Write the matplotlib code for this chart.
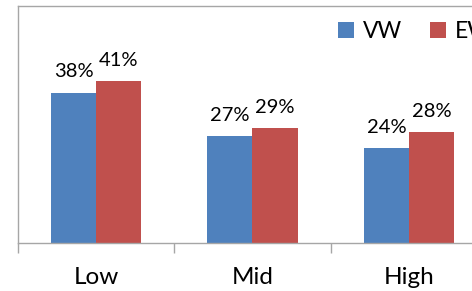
import matplotlib.pyplot as plt
import numpy as np

# data
categories = ["Low", "Mid", "High"]
vw = [38, 27, 24]
ew = [41, 29, 28]
series_names = ["VW", "EW"]

blue = "#4F81BD"
red = "#C0504D"
grey = "#A6A6A6"

plt.rcParams['font.family'] = ['Lato', 'DejaVu Sans']

fig = plt.figure(figsize=(4.72, 2.91), dpi=100)
# plot area runs off the right edge, like the cropped original
ax = fig.add_axes([18 / 472, 48 / 291, 469 / 472, 237 / 291])

x = np.arange(len(categories))
w = 0.288
b1 = ax.bar(x - w / 2, vw, w, color=blue, label=series_names[0])
b2 = ax.bar(x + w / 2, ew, w, color=red, label=series_names[1])

for bars, vals in ((b1, vw), (b2, ew)):
    for bar, v in zip(bars, vals):
        ax.annotate(f"{v}%", (bar.get_x() + bar.get_width() / 2, v),
                    xytext=(0, 9), textcoords="offset points",
                    ha="center", va="bottom", fontsize=14.5)

ax.set_xlim(-0.5, 2.5)
ax.set_ylim(0, 60)
ax.set_yticks([])
ax.set_xticks([-0.5, 0.5, 1.5])
ax.set_xticklabels([])
ax.tick_params(axis="x", length=7, color=grey, width=1)
for i, c in enumerate(categories):
    ax.text(i, -0.1, c, transform=ax.get_xaxis_transform(),
            ha="center", va="top", fontsize=17.5)

for s in ax.spines.values():
    s.set_color(grey)
    s.set_linewidth(1)

ax.legend(loc="upper left", bbox_to_anchor=(338 / 472, 1 - 21 / 291),
          bbox_transform=fig.transFigure, ncol=2, frameon=False,
          fontsize=16.5, handlelength=0.7, handleheight=0.7,
          handletextpad=0.4, columnspacing=1.2, borderpad=0, borderaxespad=0)

fig.savefig("out.png", dpi=100)
